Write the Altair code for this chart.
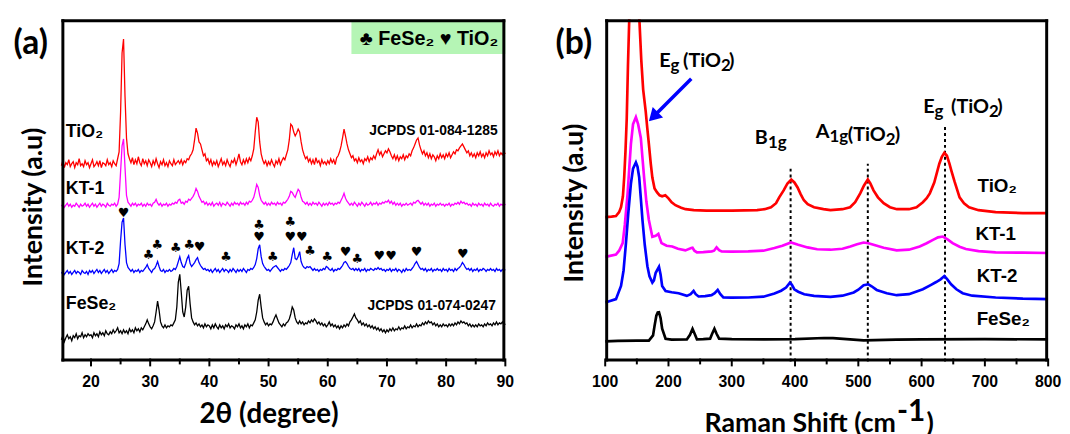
import altair as alt
import pandas as pd

# ---------------- (a) XRD data (2theta grid 15..90, step 0.25) ----------------
XRD_START = 15.0
XRD_STEP = 0.25

xrd_tio2 = (
    [198,203,196,201,199,204,197,200,202,196,201,199,205,198,200,197,203,199,201,196] +
    [200,204,197,199,202,198,203,196,201,200,198,204,199,201,197,203,200,198,205,212] +
    [252,312,326,268,226,210,205,201,206,199,204,200,207,201,198,205,200,203,198,204] +
    [201,197,203,199,205,200,196,202,199,204,198,201,197,203,200,198,204,199,201,203] +
    [200,204,199,203,201,205,204,208,210,214,224,236,231,222,220,214,208,210,203,205] +
    [200,204,198,202,199,203,197,201,205,199,202,198,204,200,197,203,201,205,199,204] +
    [210,202,199,204,200,205,201,206,203,208,215,232,247,242,222,210,204,200,203,198] +
    [202,199,204,200,197,203,200,205,199,203,206,204,209,214,224,240,238,232,228,231] +
    [235,232,222,214,209,205,207,202,205,200,204,199,206,201,203,198,204,200,202,199] +
    [203,200,205,201,204,199,206,208,212,218,226,235,228,220,214,210,206,208,203,205] +
    [201,206,202,204,200,205,203,207,202,206,204,208,205,210,214,209,212,207,210,213] +
    [211,215,212,208,205,209,204,208,203,207,205,209,204,208,206,210,208,213,216,220] +
    [224,226,219,214,210,213,208,211,206,210,205,209,207,203,208,205,210,206,209,205] +
    [210,207,211,206,209,212,210,214,213,216,218,220,217,214,211,213,208,211,207,210] +
    [206,211,208,212,207,210,206,211,208,213,209,211,207,212,209,213,208,211,209,212] +
    [210]
)
xrd_kt1 = (
    [157,159,156,158,160,157,159,156,158,157,160,158,156,159,157,158,160,157,159,156] +
    [158,160,157,159,156,158,160,157,159,158,156,160,158,157,159,158,160,157,159,166] +
    [192,218,225,196,168,161,159,157,160,158,160,157,159,158,160,157,159,157,160,158] +
    [159,157,160,161,164,160,158,160,157,159,158,160,157,159,158,160,159,161,160,163] +
    [164,160,161,159,162,161,164,163,165,167,170,175,172,167,164,161,162,159,161,158] +
    [160,158,161,157,159,160,158,161,157,160,159,158,161,159,157,160,158,161,159,160] +
    [158,161,159,160,158,161,159,162,161,163,166,172,179,176,168,163,161,159,161,158] +
    [160,158,161,159,160,158,161,159,160,158,161,160,162,164,167,172,171,168,166,170] +
    [174,172,166,162,161,159,161,158,160,158,161,159,160,158,161,159,157,160,158,160] +
    [158,161,159,160,158,160,159,161,160,163,166,170,165,162,160,158,160,158,161,159] +
    [157,160,158,161,159,157,160,158,159,161,158,160,159,161,158,160,159,161,160,162] +
    [161,163,160,162,159,161,158,160,158,160,157,159,158,160,158,159,160,158,161,160] +
    [162,163,161,159,161,158,160,158,160,157,159,158,160,157,159,158,160,158,159,157] +
    [159,158,160,157,159,158,160,159,161,159,162,160,161,159,160,158,159,157,160,158] +
    [159,157,160,158,159,157,160,158,159,157,160,158,157,159,158,160,157,159,158,160] +
    [158]
)
xrd_kt2 = (
    [89,91,88,90,92,89,91,88,90,92,89,91,90,88,92,90,89,91,88,92] +
    [90,92,89,91,93,90,92,89,91,93,90,92,89,91,93,90,92,91,93,99] +
    [122,141,145,118,100,95,93,91,93,90,92,91,93,90,92,91,93,95,98,94] +
    [92,90,93,94,97,101,96,92,91,93,90,92,91,93,91,92,94,93,96,101] +
    [106,100,96,95,99,104,107,99,96,98,100,103,105,100,97,95,93,94,92,93] +
    [91,93,90,92,94,91,93,90,92,94,91,93,92,90,93,91,94,92,90,93] +
    [91,93,91,94,92,90,93,92,94,93,95,98,104,114,118,106,99,96,94,92] +
    [93,91,93,95,96,97,95,93,91,93,92,94,93,95,97,100,108,115,104,103] +
    [106,111,101,97,95,94,96,95,96,94,92,94,92,93,91,93,92,94,93,96] +
    [95,93,92,94,91,93,92,94,93,95,97,100,101,99,96,94,93,94,92,94] +
    [92,94,91,93,92,94,91,93,92,94,93,92,94,93,95,93,94,92,93,91] +
    [93,92,94,91,93,92,94,91,93,92,90,93,91,94,92,93,92,94,96,99] +
    [101,98,95,93,94,92,94,91,93,92,94,91,93,92,94,92,93,91,94,92] +
    [93,91,94,92,93,91,94,92,94,95,97,100,98,95,93,94,92,94,91,93] +
    [92,94,91,93,92,94,93,91,93,92,94,92,93,91,94,92,93,91,93,92] +
    [93]
)
xrd_fese2 = (
    [22,26,20,24,27,23,25,21,26,24,28,23,26,25,29,24,27,25,28,26] +
    [27,24,29,26,28,25,30,27,29,26,31,28,27,30,28,32,29,31,34,29] +
    [31,28,32,29,31,28,33,30,32,29,34,31,33,30,34,32,35,38,42,38] +
    [35,33,36,40,50,61,52,40,36,34,37,34,36,35,37,36,39,42,55,80] +
    [88,70,50,45,55,72,76,58,44,40,37,39,36,38,35,37,34,38,35,37] +
    [36,33,37,34,38,35,33,37,34,36,33,37,35,38,34,36,35,33,37,35] +
    [38,34,36,33,37,35,38,34,37,36,39,42,50,62,68,55,44,40,37,39] +
    [36,38,37,40,44,47,43,39,37,35,38,36,39,40,43,48,55,52,44,40] +
    [38,41,38,40,37,39,38,41,39,42,40,43,41,38,40,37,39,36,38,35] +
    [37,40,36,38,35,37,34,36,33,36,34,37,35,38,36,40,42,45,48,44] +
    [42,39,41,37,39,36,38,35,37,34,36,33,35,32,34,31,33,30,32,29] +
    [32,30,33,31,34,31,33,32,35,32,34,33,36,33,35,34,37,34,36,35] +
    [38,35,37,36,39,37,40,38,41,39,40,37,39,36,38,35,37,35,38,36] +
    [37,35,38,36,38,36,39,37,40,38,41,39,40,38,39,36,38,35,37,35] +
    [37,35,38,36,37,35,38,36,39,37,38,36,39,37,40,37,39,38,40,37] +
    [38]
)
assert len(xrd_tio2) == len(xrd_kt1) == len(xrd_kt2) == len(xrd_fese2) == 301

xrd_samples = ["TiO₂", "KT-1", "KT-2", "FeSe₂"]
sample_colors = ["#ff0000", "#ff00ff", "#0000ff", "#000000"]

XRD_DOMAIN = [15, 90]
RAMAN_DOMAIN = [100, 800]
Y_DOM = [0, 346]
xrd_major_ticks = [20, 30, 40, 50, 60, 70, 80, 90]
xrd_minor_ticks = [25, 35, 45, 55, 65, 75, 85]
raman_major_ticks = [100, 200, 300, 400, 500, 600, 700, 800]
raman_minor_ticks = [150, 250, 350, 450, 550, 650, 750]

# peak markers above KT-2: (2theta, height, glyph)
marker_x = [25.5, 29.7, 31.2, 34.3, 36.6, 38.35, 42.8, 48.4, 48.4, 50.7, 53.65, 53.65,
            55.6, 57.0, 59.9, 63.0, 65.0, 68.7, 70.7, 75.0, 82.8]
marker_y = [150, 108, 118, 115, 118, 116, 106, 138, 126, 106, 141, 126,
            126, 112, 106, 111, 104, 107, 107, 111, 109]
marker_g = ["♥", "♣", "♣", "♣", "♣", "♥", "♣", "♣", "♥", "♣", "♣", "♥",
            "♥", "♣", "♣", "♥", "♣", "♥", "♥", "♥", "♥"]

# ---------------- (b) Raman data ----------------
raman_tio2_x = [100,110,117,122,125,128,130,132,134,136,138,141,145,149,152,154,157,160,164,166.5,
                169,172,174.5,178,182,186,190,195,200,205,211,220,227,240,260,300,340,352,362,370,
                375,382,388,394,399,404,409,414,420,430,445,456,475,487,495,503,509,515,519,524,
                531,540,550,561,580,592,602,608,613,620,628,632,636,640,644,647,652,656,660,667,
                675,690,717,760,800]
raman_tio2_y = [146,146.5,147,151,156,167,186,212,245,300,346,430,470,430,380,346,305,275,253,236,
                220,200,186,175,171,168,167,168,165,161,158,155.5,154,153,152.5,152.5,153,154,156,160,
                166,173,180,184,181,176,169,163,159,156,154,153,154,156,161,170,178,184,180,173,
                166,160,156,154,154,156,161,165,170,181,200,207,211,208,200,193,182,174,166,160,
                156,153,151,150,150]
raman_kt1_x = [100,104,117,122,127.6,131,135.4,138,140.6,144,148.5,152,156.3,159,161.5,165,169,174.5,179.8,184,
               189,197,206,215,226.7,236,238,241,245,255,268.4,272,276,280,284,300,326,350,367.5,380,
               393.6,405,419.7,435,456,475,487.5,498,508.4,516,524,540,560.6,580,597,608,618,626,633.6,641,
               649,660,670,690,717,760,800]
raman_kt1_y = [106,106.3,108,112,119.7,138,169.7,195,219.7,240,247,240,226,205,186,162,143,126,127,129,
               119.7,117,116.3,114,112.3,114.7,115,112,110.3,110.5,111.3,112,115.3,112.5,111.3,111,111.3,112,114.7,117,
               120.3,118,115.3,113.5,113,114,116.3,118.5,120.3,119.5,118,115,112.3,113,116.3,119.5,123,125.5,126.3,123.5,
               119.7,116,113.7,111.5,110.3,110,109.7]
raman_kt2_x = [100,104,117,125,129,132.8,136.5,140.6,144,148.5,151,153.7,156.3,158.9,162.5,166.7,170,174.5,177,179.8,
               185,187.5,190,195.4,205,216,229,235,239.7,243,247.6,258,268,273,277.8,282,286.7,300,326,350,
               367.5,378,385.8,392,395,398.8,405,414.5,430,456,475,492.7,500,508.4,516,521,529,545,560.6,580,
               602,615,623,630,636,640,646.6,655,664.9,680,717,760,800]
raman_kt2_y = [60,60.3,63,76.3,92,119.7,150,179.7,195,201.3,197,186.3,165,143,118,96.3,86,79.7,82,89.7,
               95.7,88,76.3,71.3,70,69,66.3,68,71.3,68,65.7,66,67,69,72.3,68,64.7,64.5,64.7,65.5,
               68.7,71.5,74.7,79.7,77.5,73,70.5,68,66.3,65.3,66.5,69.7,72.5,77,78,76,72.3,69,67,68,
               73,77.5,80.3,83,86.3,83.5,78,73,69,66.5,64.7,63.5,63]
raman_fese2_x = [100,120,150,169,175.6,178,180.8,183,185,187.5,190,195.4,205,229,234,238,242,245,255,265.8,
                 269,272.6,276,280,300,352,400,445.8,460,508.4,560,600,700,800]
raman_fese2_y = [20.3,20.8,21,21,26.3,36,46.3,49.5,49.7,44,33,23,22,22.3,27,33,27,22.3,22.5,23,
                 28,33,28,23,22.5,22.3,22.5,23.7,23.5,21.3,22,22.3,22.5,22.3]

raman_modes_x = [393, 515, 637]
raman_modes_top = [198, 200, 238]

W_A, W_B, H = 449, 448, 346
ARIAL = "Liberation Sans"
CALIBRI = "Lato"

ys = alt.Scale(domain=Y_DOM, nice=False, zero=False)


def X(field, xs):
    return alt.X(field, scale=xs, axis=None)


def Y(field):
    return alt.Y(field, scale=ys, axis=None)


def data_text(df, xs, size, font=ARIAL, weight="bold", align="left", baseline="alphabetic"):
    return alt.Chart(df).mark_text(
        font=font, fontSize=size, fontWeight=weight, align=align, baseline=baseline, color="black"
    ).encode(x=X("x:Q", xs), y=Y("y:Q"), text="t:N")


def px_text(t, x, y, size, font=CALIBRI, align="center", baseline="middle", angle=0):
    return alt.Chart(pd.DataFrame({"t": [t]})).mark_text(
        font=font, fontSize=size, fontWeight="bold", align=align, baseline=baseline,
        angle=angle, color="black"
    ).encode(x=alt.value(x), y=alt.value(y), text="t:N")


def frame_and_axis(xs, domain, majors, minors, width):
    """Box frame (drawn just inside the plot edge), ticks and tick labels, through the scales."""
    lo, hi = domain
    top = Y_DOM[1]
    kx = (hi - lo) / width
    ix, iy = 1.5 * kx, 1.5          # inset of the 3-px frame line centre
    edges = pd.DataFrame({
        "x":  [lo, lo, lo + ix, hi - ix],
        "x2": [hi, hi, lo + ix, hi - ix],
        "y":  [iy, top - iy, 0, 0],
        "y2": [iy, top - iy, top, top],
    })
    frame = alt.Chart(edges).mark_rule(color="black", strokeWidth=3).encode(
        x=X("x:Q", xs), x2="x2:Q", y=Y("y:Q"), y2="y2:Q")
    tick_x = majors + minors
    ticks_df = pd.DataFrame({"x": tick_x, "y0": [3] * len(tick_x),
                             "tip": [-5] * len(majors) + [-3] * len(minors)})
    ticks = alt.Chart(ticks_df).mark_rule(color="black", strokeWidth=2).encode(
        x=X("x:Q", xs), y=Y("y0:Q"), y2="tip:Q")
    labels = alt.Chart(pd.DataFrame({"x": majors, "y": [-13] * len(majors),
                                     "t": [str(v) for v in majors]})).mark_text(
        font=ARIAL, fontSize=16, fontWeight="bold", color="black", align="center", baseline="top"
    ).encode(x=X("x:Q", xs), y=Y("y:Q"), text="t:N")
    return [ticks, frame, labels]


# ---------------- panel (a) ----------------
xs_a = alt.Scale(domain=XRD_DOMAIN, nice=False, zero=False)

two_theta = [XRD_START + XRD_STEP * i for i in range(301)]
xrd_df = pd.concat([
    pd.DataFrame({"two_theta": two_theta, "intensity": vals, "sample": name})
    for name, vals in zip(xrd_samples, [xrd_tio2, xrd_kt1, xrd_kt2, xrd_fese2])
])

xrd_lines = alt.Chart(xrd_df).mark_line(strokeWidth=1.3).encode(
    x=X("two_theta:Q", xs_a),
    y=Y("intensity:Q"),
    color=alt.Color("sample:N", scale=alt.Scale(domain=xrd_samples, range=sample_colors), legend=None),
    detail="sample:N",
)

legend_box = alt.Chart(pd.DataFrame({"x": [64.0], "x2": [90.0], "y": [311], "y2": [345]})).mark_rect(
    color="#b5f5b5"
).encode(x=X("x:Q", xs_a), x2="x2:Q", y=Y("y:Q"), y2="y2:Q")

legend_text = data_text(pd.DataFrame({"x": [77.1], "y": [326], "t": ["♣ FeSe₂ ♥ TiO₂"]}), xs_a, 20,
                        align="center", baseline="middle")

xrd_labels = data_text(pd.DataFrame({
    "x": [15.75, 15.75, 15.75, 15.75],
    "y": [227, 169, 109, 53],
    "t": xrd_samples,
}), xs_a, 18)

jcpds = data_text(pd.DataFrame({
    "x": [88.7, 88.4], "y": [228.7, 52.3], "t": ["JCPDS 01-084-1285", "JCPDS 01-074-0247"],
}), xs_a, 14, align="right")

markers = alt.Chart(pd.DataFrame({"x": marker_x, "y": marker_y, "t": marker_g})).mark_text(
    font="DejaVu Sans", fontSize=13, color="black", baseline="middle", align="center"
).encode(x=X("x:Q", xs_a), y=Y("y:Q"), text="t:N")

panel_a = alt.layer(
    legend_box, xrd_lines, legend_text, xrd_labels, jcpds, markers,
    *frame_and_axis(xs_a, XRD_DOMAIN, xrd_major_ticks, xrd_minor_ticks, W_A),
    px_text("(a)", -31, 25, 34),
    px_text("Intensity (a.u)", -28, 190, 27, angle=270),
    px_text("2θ (degree)", 210, 408, 28, baseline="alphabetic"),
).properties(width=W_A, height=H)

# ---------------- panel (b) ----------------
xs_b = alt.Scale(domain=RAMAN_DOMAIN, nice=False, zero=False)
raman_df = pd.concat([
    pd.DataFrame({"shift": xv, "intensity": yv, "sample": name})
    for name, xv, yv in zip(
        xrd_samples,
        [raman_tio2_x, raman_kt1_x, raman_kt2_x, raman_fese2_x],
        [raman_tio2_y, raman_kt1_y, raman_kt2_y, raman_fese2_y],
    )
])

mode_lines = alt.Chart(pd.DataFrame({"x": raman_modes_x, "y0": [0, 0, 0], "top": raman_modes_top})).mark_rule(
    color="black", strokeWidth=2, strokeDash=[3, 3]
).encode(x=X("x:Q", xs_b), y=Y("y0:Q"), y2="top:Q")

raman_lines = alt.Chart(raman_df).mark_line(clip=True).encode(
    x=X("shift:Q", xs_b),
    y=Y("intensity:Q"),
    color=alt.Color("sample:N", scale=alt.Scale(domain=xrd_samples, range=sample_colors), legend=None),
    size=alt.Size("sample:N", scale=alt.Scale(domain=xrd_samples, range=[2.7, 2.7, 2.7, 2.2]), legend=None),
    detail="sample:N",
)

raman_labels = data_text(pd.DataFrame({
    "x": [688.4, 685, 687, 687], "y": [171, 123, 80, 37], "t": xrd_samples,
}), xs_b, 19)

# mode annotations, anchored at the junctions
mode_right = pd.DataFrame({   # pieces ending at x
    "x": [203.3, 283.1, 357.1, 454.4, 543.5, 620.5, 706.6],
    "y": [298, 298, 220, 226, 223, 251, 251],
    "t": ["E", "(TiO", "B", "A", "(TiO", "E", "(TiO"],
})
mode_left = pd.DataFrame({    # normal-size pieces starting at x
    "x": [295.6, 557.6, 719.7],
    "y": [298, 223, 251],
    "t": [")", ")", ")"],
})
mode_sub = pd.DataFrame({     # subscripts starting at x
    "x": [203.3, 283.1, 357.1, 454.4, 543.5, 620.5, 706.6],
    "y": [294, 294, 216, 222, 219, 247, 247],
    "t": ["g", "2", "1g", "1g", "2", "g", "2"],
})
mode_text_r = data_text(mode_right, xs_b, 20, font=CALIBRI, align="right")
mode_text_l = data_text(mode_left, xs_b, 20, font=CALIBRI, align="left")
mode_text_s = data_text(mode_sub, xs_b, 17, font=CALIBRI, align="left")

arrow_line = alt.Chart(pd.DataFrame({"x": [236], "y": [286], "x2": [180], "y2": [250]})).mark_rule(
    color="#0000ff", strokeWidth=3.5
).encode(x=X("x:Q", xs_b), y=Y("y:Q"), x2="x2:Q", y2="y2:Q")
arrow_head = alt.Chart(pd.DataFrame({"x": [178.5], "y": [249]})).mark_point(
    shape="triangle", filled=True, color="#0000ff", size=220, angle=225, opacity=1
).encode(x=X("x:Q", xs_b), y=Y("y:Q"))

panel_b = alt.layer(
    mode_lines, raman_lines, raman_labels, mode_text_r, mode_text_l, mode_text_s, arrow_line, arrow_head,
    *frame_and_axis(xs_b, RAMAN_DOMAIN, raman_major_ticks, raman_minor_ticks, W_B),
    px_text("(b)", -31.7, 25, 34),
    px_text("Intensity (a.u)", -30.3, 186, 27, angle=270),
    px_text("Raman Shift (cm", 294, 417.5, 27, align="right", baseline="alphabetic"),
    px_text("-1", 295, 406, 30, align="left", baseline="alphabetic"),
    px_text(")", 325, 417.5, 27, align="left", baseline="alphabetic"),
).properties(width=W_B, height=H)

chart = alt.hconcat(panel_a, panel_b, spacing=41).properties(
    padding={"left": 5, "top": 7, "right": 0, "bottom": 0},
    background="white",
).configure_view(strokeWidth=0)

chart.save("out.html", embed_options={"renderer": "svg", "actions": False})
